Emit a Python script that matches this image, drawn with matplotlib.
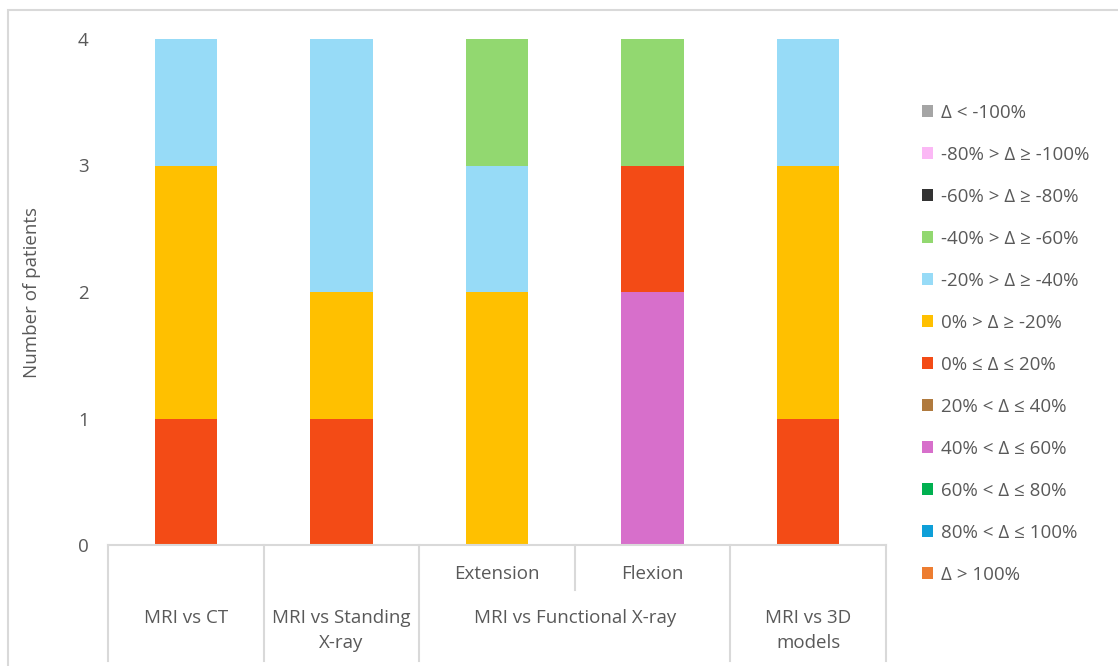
import numpy as np
import matplotlib.pyplot as plt
from matplotlib.patches import Rectangle

plt.rcParams['font.family'] = ['Open Sans', 'DejaVu Sans']

# stacked from the bottom up
bins = ['Δ > 100%', '80% < Δ ≤ 100%', '60% < Δ ≤ 80%', '40% < Δ ≤ 60%',
        '20% < Δ ≤ 40%', '0% ≤ Δ ≤ 20%', '0% > Δ ≥ -20%', '-20% > Δ ≥ -40%',
        '-40% > Δ ≥ -60%', '-60% > Δ ≥ -80%', '-80% > Δ ≥ -100%', 'Δ < -100%']
colors = ['#ED7D31', '#0E9FD8', '#00B050', '#D76FCB', '#B07A3E', '#F34B16',
          '#FFC000', '#97DBF7', '#92D870', '#333333', '#FBB8F5', '#A5A5A5']

# columns: MRI vs CT, MRI vs Standing X-ray, Extension, Flexion, MRI vs 3D models
counts = {
    'Δ > 100%':          [0, 0, 0, 0, 0],
    '80% < Δ ≤ 100%':    [0, 0, 0, 0, 0],
    '60% < Δ ≤ 80%':     [0, 0, 0, 0, 0],
    '40% < Δ ≤ 60%':     [0, 0, 0, 2, 0],
    '20% < Δ ≤ 40%':     [0, 0, 0, 0, 0],
    '0% ≤ Δ ≤ 20%':      [1, 1, 0, 1, 1],
    '0% > Δ ≥ -20%':     [2, 1, 2, 0, 2],
    '-20% > Δ ≥ -40%':   [1, 2, 1, 0, 1],
    '-40% > Δ ≥ -60%':   [0, 0, 1, 1, 0],
    '-60% > Δ ≥ -80%':   [0, 0, 0, 0, 0],
    '-80% > Δ ≥ -100%':  [0, 0, 0, 0, 0],
    'Δ < -100%':         [0, 0, 0, 0, 0],
}
sub_labels = ['', '', 'Extension', 'Flexion', '']
groups = [('MRI vs CT', 0, 1), ('MRI vs Standing\nX-ray', 1, 2),
          ('MRI vs Functional X-ray', 2, 4), ('MRI vs 3D\nmodels', 4, 5)]

grey = '#595959'
line_c = '#D9D9D9'
fs = 13.5

fig = plt.figure(figsize=(11.18, 6.66), dpi=100)
ax = fig.add_axes([108/1118, 1-545/666, (886-108)/1118, (545-39)/666])

# chart border
fig.patches.append(Rectangle((8/1118, -0.05), 1.1, 1-10/666+0.05, transform=fig.transFigure,
                             fill=False, edgecolor=line_c, linewidth=1.5))

x = np.arange(5)
bottom = np.zeros(5)
handles = []
for name, c in zip(bins, colors):
    v = np.array(counts[name], dtype=float)
    b = ax.bar(x, v, width=0.4, bottom=bottom, color=c, label=name)
    handles.append(b)
    bottom += v

ax.set_xlim(-0.5, 4.5)
ax.set_ylim(0, 4)
ax.set_yticks([0, 1, 2, 3, 4])
ax.tick_params(axis='y', length=0, pad=14, labelsize=fs, labelcolor=grey)
ax.set_xticks([])
for s in ['top', 'right', 'left']:
    ax.spines[s].set_visible(False)
ax.spines['bottom'].set_color(line_c)
ax.spines['bottom'].set_linewidth(1.5)
ax.set_ylabel('Number of patients', fontsize=fs, color=grey)
ax.yaxis.set_label_coords(-0.086, 0.5)

# category table under the axis
trans = ax.get_xaxis_transform()
for xb in [-0.5, 0.5, 1.5, 3.5, 4.5]:
    ax.plot([xb, xb], [0, -0.23], transform=trans, color=line_c, lw=1.5, clip_on=False)
ax.plot([2.5, 2.5], [0, -0.089], transform=trans, color=line_c, lw=1.5, clip_on=False)
for i, s in enumerate(sub_labels):
    if s:
        ax.text(i, -0.057, s, transform=trans, ha='center', va='center',
                fontsize=fs, color=grey)
for lab, a, b in groups:
    ax.text((a + b - 1) / 2, -0.127, lab, transform=trans, ha='center', va='top',
            fontsize=fs, color=grey, linespacing=1.45)

leg = fig.legend(handles=handles[::-1], loc='upper left', bbox_to_anchor=(914/1118, 1-96/666),
                 frameon=False, fontsize=fs, handlelength=0.6, handleheight=0.6,
                 handletextpad=0.45, labelspacing=1.28, borderaxespad=0, labelcolor=grey)

fig.savefig('out.png', dpi=100)
